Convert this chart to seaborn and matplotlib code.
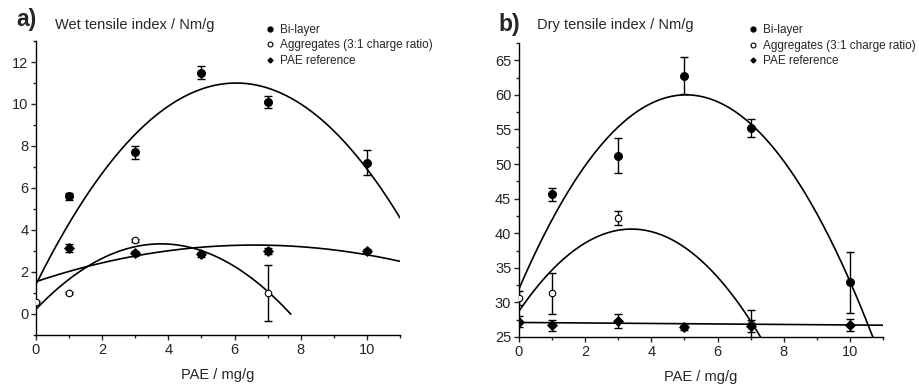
import matplotlib
matplotlib.use('Agg')
import matplotlib.pyplot as plt
from matplotlib.lines import Line2D
from matplotlib.ticker import MultipleLocator
import seaborn as sns
import numpy as np
import pandas as pd

# wet tensile index (panel a)
wet_bi_x = [1, 3, 5, 7, 10]
wet_bi_y = [5.6, 7.7, 11.5, 10.1, 7.2]
wet_bi_err = [0.15, 0.3, 0.3, 0.3, 0.6]
wet_agg_x = [0, 1, 3, 7]
wet_agg_y = [0.56, 1.0, 3.5, 1.0]
wet_agg_err = [0.05, 0.06, 0.06, 1.35]
wet_pae_x = [1, 3, 5, 7, 10]
wet_pae_y = [3.15, 2.9, 2.85, 3.0, 3.0]
wet_pae_err = [0.2, 0.12, 0.12, 0.15, 0.08]

# dry tensile index (panel b)
dry_bi_x = [1, 3, 5, 7, 10]
dry_bi_y = [45.6, 51.2, 62.8, 55.2, 32.9]
dry_bi_err = [0.9, 2.55, 2.65, 1.35, 4.4]
dry_agg_x = [0, 1, 3, 7]
dry_agg_y = [30.6, 31.3, 42.2, 26.9]
dry_agg_err = [1.0, 3.0, 1.0, 2.0]
dry_pae_x = [0, 1, 3, 5, 7, 10]
dry_pae_y = [27.2, 26.7, 27.3, 26.4, 26.6, 26.7]
dry_pae_err = [0.8, 0.8, 1.0, 0.4, 0.9, 0.9]

# polynomial fit curves: coefficients (x^2, x, 1), x end
wet_bi_fit, wet_bi_end = [-0.262, 3.17, 1.41], 11
wet_agg_fit, wet_agg_end = [-0.218, 1.648, 0.225], 7.7
wet_pae_fit, wet_pae_end = [-0.04, 0.528, 1.54], 11
dry_bi_fit, dry_bi_end = [-1.1, 11.11, 31.95], 11
dry_agg_fit, dry_agg_end = [-1.026, 6.977, 28.74], 11
dry_pae_fit, dry_pae_end = [0.0, -0.036, 27.1], 11

labels = ['Bi-layer', 'Aggregates (3:1 charge ratio)', 'PAE reference']

sns.set_style('ticks')
plt.rcParams['font.family'] = ['Liberation Sans', 'DejaVu Sans']
plt.rcParams['xtick.major.size'] = 3.5
plt.rcParams['ytick.major.size'] = 3.5
plt.rcParams['xtick.minor.size'] = 2
plt.rcParams['ytick.minor.size'] = 2

fig = plt.figure(figsize=(9.2, 3.85), dpi=100)
ax1 = fig.add_axes([0.0391, 0.1299, 0.3957, 0.7636])
ax2 = fig.add_axes([0.5641, 0.1247, 0.3957, 0.7636])


def draw_series(ax, x, y, err, marker, filled, size):
    ax.errorbar(x, y, yerr=err, fmt='none', ecolor='black', elinewidth=1,
                capsize=3, capthick=1, zorder=3)
    d = pd.DataFrame({'x': x, 'y': y})
    sns.scatterplot(data=d, x='x', y='y', ax=ax, marker=marker, s=size,
                    color='black' if filled else 'white', edgecolor='black',
                    linewidth=0.8, zorder=4)


def draw_fit(ax, coef, end):
    xs = np.linspace(0, end, 300)
    d = pd.DataFrame({'x': xs, 'y': np.polyval(coef, xs)})
    sns.lineplot(data=d, x='x', y='y', ax=ax, color='black', linewidth=1.2)


for ax, series, fits, leg_y in [
    (ax1,
     [(wet_bi_x, wet_bi_y, wet_bi_err), (wet_agg_x, wet_agg_y, wet_agg_err),
      (wet_pae_x, wet_pae_y, wet_pae_err)],
     [(wet_bi_fit, wet_bi_end), (wet_agg_fit, wet_agg_end), (wet_pae_fit, wet_pae_end)],
     1.058),
    (ax2,
     [(dry_bi_x, dry_bi_y, dry_bi_err), (dry_agg_x, dry_agg_y, dry_agg_err),
      (dry_pae_x, dry_pae_y, dry_pae_err)],
     [(dry_bi_fit, dry_bi_end), (dry_agg_fit, dry_agg_end), (dry_pae_fit, dry_pae_end)],
     1.064),
]:
    for coef, end in fits:
        draw_fit(ax, coef, end)
    draw_series(ax, *series[0], 'o', True, 32)
    draw_series(ax, *series[1], 'o', False, 22)
    draw_series(ax, *series[2], 'D', True, 24)

    ax.set_xlim(0, 11)
    ax.xaxis.set_major_locator(MultipleLocator(2))
    ax.xaxis.set_minor_locator(MultipleLocator(1))
    ax.set_xlabel('PAE / mg/g', fontsize=10.5, labelpad=8)
    ax.set_ylabel('')
    ax.tick_params(labelsize=10.5, width=1, pad=2)
    ax.tick_params(which='minor', width=1)
    sns.despine(ax=ax)
    for s in ['left', 'bottom']:
        ax.spines[s].set_linewidth(1)
        ax.spines[s].set_color('black')

    handles = [
        Line2D([], [], ls='none', marker='o', color='black', markersize=3.5),
        Line2D([], [], ls='none', marker='o', markerfacecolor='white',
               markeredgecolor='black', markersize=3.5, markeredgewidth=0.8),
        Line2D([], [], ls='none', marker='D', color='black', markersize=2.5),
    ]
    ax.legend(handles, labels, loc='upper left', bbox_to_anchor=(0.626, leg_y),
              frameon=False, fontsize=8.5, handlelength=1, handletextpad=0.35,
              labelspacing=0.3, borderpad=0, borderaxespad=0)

ax1.set_ylim(-1, 13)
ax1.yaxis.set_major_locator(MultipleLocator(2))
ax1.yaxis.set_minor_locator(MultipleLocator(1))
ax2.set_ylim(25, 67.5)
ax2.yaxis.set_major_locator(MultipleLocator(5))
ax2.yaxis.set_minor_locator(MultipleLocator(2.5))

ax1.text(-0.054, 1.051, 'a)', transform=ax1.transAxes, fontsize=16.5,
         fontweight='bold', va='baseline', ha='left')
ax1.text(0.052, 1.041, 'Wet tensile index / Nm/g', transform=ax1.transAxes,
         fontsize=10.5, va='baseline', ha='left')
ax2.text(-0.057, 1.041, 'b)', transform=ax2.transAxes, fontsize=16.5,
         fontweight='bold', va='baseline', ha='left')
ax2.text(0.049, 1.048, 'Dry tensile index / Nm/g', transform=ax2.transAxes,
         fontsize=10.5, va='baseline', ha='left')

fig.savefig('out.png', dpi=100)
